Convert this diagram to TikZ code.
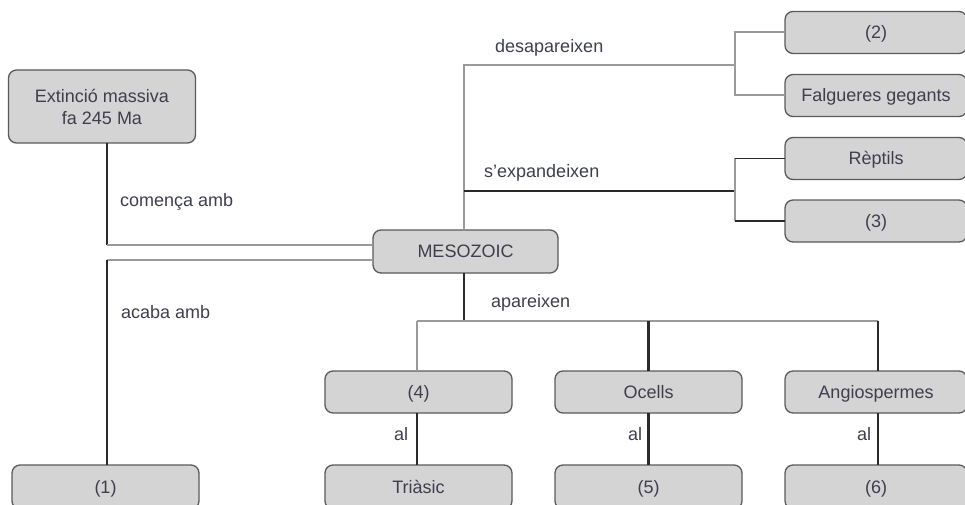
\documentclass[tikz,border=0pt]{standalone}
\usepackage{fontspec}
\setmainfont{Liberation Sans}
\definecolor{boxfill}{HTML}{D4D4D4}
\definecolor{boxline}{HTML}{5A5A5A}
\definecolor{txt}{HTML}{3E3E4E}
\definecolor{greyline}{HTML}{9A9A9A}
\definecolor{darkline}{HTML}{2A2A2A}
\tikzset{
  concept/.style={draw=boxline, line width=1.3pt, fill=boxfill, rounded corners=8pt,
    outer sep=0pt, inner sep=2pt, align=center, text=txt,
    font=\fontsize{18}{22}\selectfont},
  oneline/.style={text height=15pt, text depth=3pt},
  wide/.style={concept, oneline, minimum width=187pt, minimum height=42pt},
  side/.style={concept, oneline, minimum width=182pt, minimum height=42pt},
  lbl/.style={text=txt, font=\fontsize{18}{22}\selectfont, inner sep=0pt, anchor=west},
  greylink/.style={draw=greyline, line width=2pt},
  thinlink/.style={draw=darkline, line width=1.2pt},
  boldlink/.style={draw=darkline, line width=2.6pt},
}
\begin{document}
\begin{tikzpicture}[x=1pt,y=-1pt]
\useasboundingbox (0,0) rectangle (965,505);
\clip (0,0) rectangle (965,505);

% concept boxes
\node[concept, minimum width=187pt, minimum height=73pt] (ext) at (102,106.5) {Extinció massiva\\fa 245 Ma};
\node[wide, minimum width=185pt, minimum height=43pt] (meso) at (465.5,251.5) {MESOZOIC};
\node[side] (n2)   at (876,32.5)  {(2)};
\node[side] (falg) at (876,95.5)  {Falgueres gegants};
\node[side] (rept) at (876,158.5) {Rèptils};
\node[side] (n3)   at (876,221)   {(3)};
\node[wide] (n4)    at (418.5,392) {(4)};
\node[wide] (ocel)  at (648.5,392) {Ocells};
\node[side] (angio) at (876,392)   {Angiospermes};
\node[wide, minimum height=44pt] (n1)   at (105.5,487) {(1)};
\node[wide, minimum height=44pt] (tria) at (418.5,487) {Triàsic};
\node[wide, minimum height=44pt] (n5)   at (648.5,487) {(5)};
\node[side, minimum height=44pt] (n6)   at (876,487)   {(6)};

% junction points
\coordinate (cbeg) at (107,245);
\coordinate (cend) at (107,260);
\coordinate (top)  at (464,65);
\coordinate (mid)  at (464,191);
\coordinate (fork1) at (735,65);
\coordinate (fork2) at (735,191);
\coordinate (low)  at (464,321);
\coordinate (lowL) at (417,321);
\coordinate (lowR) at (878,321);

% begins with / ends with
\draw[thinlink] (ext.south -| cbeg) -- (cbeg);
\draw[greylink] (cbeg) -- (cbeg -| meso.west);
\draw[greylink] (cend -| meso.west) -- (cend);
\draw[thinlink] (cend) -- (cend |- n1.north);

% disappear
\draw[greylink] (top |- meso.north) -- (top) -- (fork1);
\draw[greylink] (n2.west) -| (fork1) |- (falg.west);

% expand
\draw[boldlink] (mid) -- (fork2);
\draw[greylink] (fork2 |- rept.west) -- (fork2 |- n3.west);
\draw[darkline, line width=1.6pt] (fork2 |- rept.west) -- (rept.west);
\draw[darkline, line width=1.6pt] (fork2 |- n3.west) -- (n3.west);

% appear
\draw[thinlink] (low |- meso.south) -- (low);
\draw[greylink] (lowL) -- (lowR);
\draw[greylink] (lowL) -- (lowL |- n4.north);
\draw[boldlink] (ocel.north |- low) -- (ocel.north);
\draw[boldlink] (lowR) -- (lowR |- angio.north);

% "al" links
\draw[boldlink] (lowL |- n4.south) -- (lowL |- tria.north);
\draw[boldlink] (ocel.south) -- (n5.north);
\draw[boldlink] (lowR |- angio.south) -- (lowR |- n6.north);

% link labels
\node[lbl] (lbeg) at (120,202) {comença amb};
\node[lbl] (lend) at (121,312) {acaba amb};
\node[lbl] (ldis) at (495,48)  {desapareixen};
\node[lbl] (lexp) at (484,173) {s’expandeixen};
\node[lbl] (lapp) at (491,303) {apareixen};
\node[lbl] (al1) at (394,434) {al};
\node[lbl] (al2) at (628,434) {al};
\node[lbl] (al3) at (857,434) {al};
\end{tikzpicture}
\end{document}
